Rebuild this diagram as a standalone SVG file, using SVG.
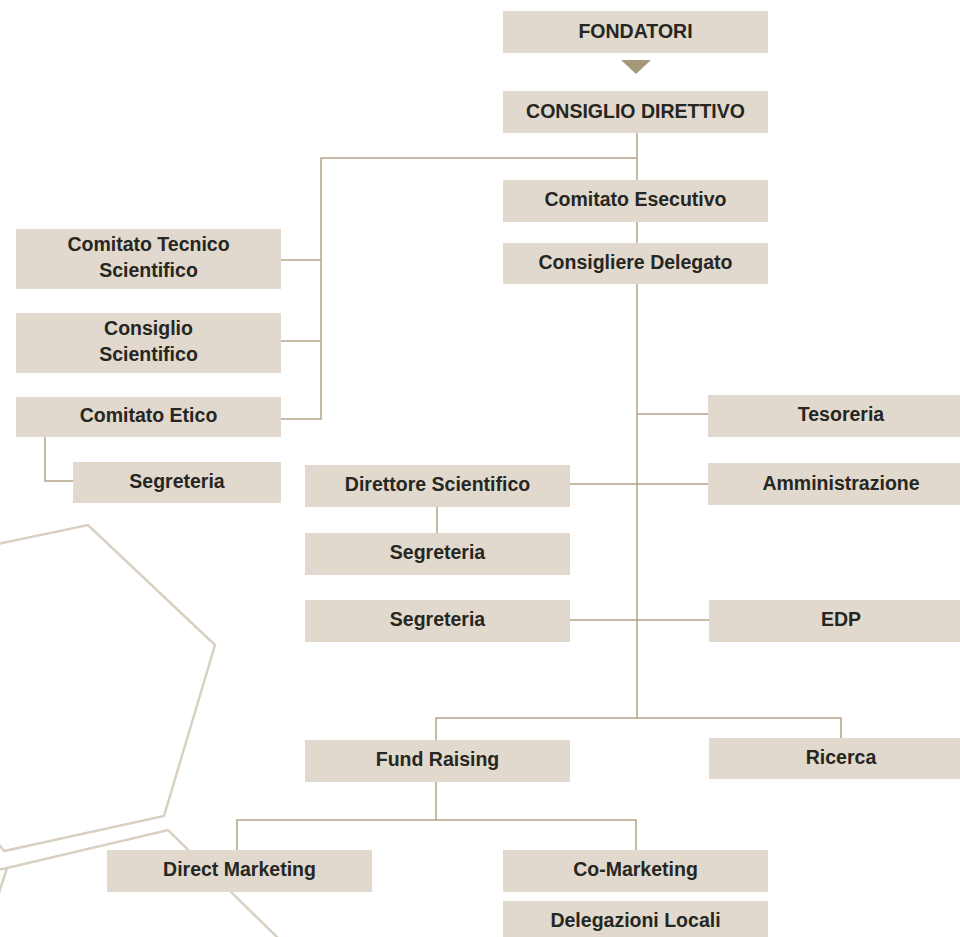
<svg xmlns="http://www.w3.org/2000/svg" width="960" height="937" viewBox="0 0 960 937">
<style>
.box{fill:#e1d9cd}
.t{font-family:"Liberation Sans",Arial,Helvetica,sans-serif;font-size:19.5px;font-weight:bold;fill:#262622;text-anchor:middle}
.c{fill:none;stroke:#b2a485;stroke-width:1.5}
.deco{fill:none;stroke:#d9d0c2;stroke-width:2.5;stroke-linejoin:miter}
</style>
<rect width="960" height="937" fill="#ffffff"/>
<g id="decoration">
<polyline class="deco" points="-40,552 88,525 215,645 164,816 4,851 -20,820"/>
<polyline class="deco" points="-20,874 7,868 168,830 280,940"/>
<line class="deco" x1="7" y1="868" x2="-5" y2="905"/>
</g>
<g id="connectors">
<polygon points="621,60 651,60 636,74" fill="#a4977a"/>
<path class="c" d="M637,133 V180 M637,222 V243 M637,284 V718"/>
<path class="c" d="M637,158 H321 V419 H281 M281,260 H321 M281,341 H321"/>
<path class="c" d="M45,437 V481 H73"/>
<path class="c" d="M637,414 H708 M570,484 H708 M437,507 V533 M570,620 H709"/>
<path class="c" d="M436,740 V718 H841 V738"/>
<path class="c" d="M436,782 V820 M237,850 V820 H636 V850"/>
</g>
<g id="fondatori"><rect class="box" x="503" y="11" width="265" height="42"/><text class="t" x="635.5" y="38">FONDATORI</text></g>
<g id="consiglio-direttivo"><rect class="box" x="503" y="91" width="265" height="42"/><text class="t" x="635.5" y="117.5">CONSIGLIO DIRETTIVO</text></g>
<g id="comitato-esecutivo"><rect class="box" x="503" y="180" width="265" height="42"/><text class="t" x="635.5" y="206">Comitato Esecutivo</text></g>
<g id="consigliere-delegato"><rect class="box" x="503" y="243" width="265" height="41"/><text class="t" x="635.5" y="269">Consigliere Delegato</text></g>
<g id="comitato-tecnico"><rect class="box" x="16" y="229" width="265" height="60"/><text class="t" x="148.5" y="251">Comitato Tecnico</text><text class="t" x="148.5" y="277">Scientifico</text></g>
<g id="consiglio-scientifico"><rect class="box" x="16" y="313" width="265" height="60"/><text class="t" x="148.5" y="335">Consiglio</text><text class="t" x="148.5" y="361">Scientifico</text></g>
<g id="comitato-etico"><rect class="box" x="16" y="397" width="265" height="40"/><text class="t" x="148.5" y="422">Comitato Etico</text></g>
<g id="segreteria-etico"><rect class="box" x="73" y="462" width="208" height="41"/><text class="t" x="177" y="488">Segreteria</text></g>
<g id="tesoreria"><rect class="box" x="708" y="395" width="266" height="42"/><text class="t" x="841" y="421">Tesoreria</text></g>
<g id="amministrazione"><rect class="box" x="708" y="463" width="266" height="42"/><text class="t" x="841" y="490">Amministrazione</text></g>
<g id="direttore-scientifico"><rect class="box" x="305" y="465" width="265" height="42"/><text class="t" x="437.5" y="491">Direttore Scientifico</text></g>
<g id="segreteria-direttore"><rect class="box" x="305" y="533" width="265" height="42"/><text class="t" x="437.5" y="559">Segreteria</text></g>
<g id="segreteria"><rect class="box" x="305" y="600" width="265" height="42"/><text class="t" x="437.5" y="626">Segreteria</text></g>
<g id="edp"><rect class="box" x="709" y="600" width="265" height="42"/><text class="t" x="841" y="626">EDP</text></g>
<g id="fund-raising"><rect class="box" x="305" y="740" width="265" height="42"/><text class="t" x="437.5" y="766">Fund Raising</text></g>
<g id="ricerca"><rect class="box" x="709" y="738" width="265" height="41"/><text class="t" x="841" y="764">Ricerca</text></g>
<g id="direct-marketing"><rect class="box" x="107" y="850" width="265" height="42"/><text class="t" x="239.5" y="876">Direct Marketing</text></g>
<g id="co-marketing"><rect class="box" x="503" y="850" width="265" height="42"/><text class="t" x="635.5" y="876">Co-Marketing</text></g>
<g id="delegazioni-locali"><rect class="box" x="503" y="901" width="265" height="40"/><text class="t" x="635.5" y="927">Delegazioni Locali</text></g>
</svg>
